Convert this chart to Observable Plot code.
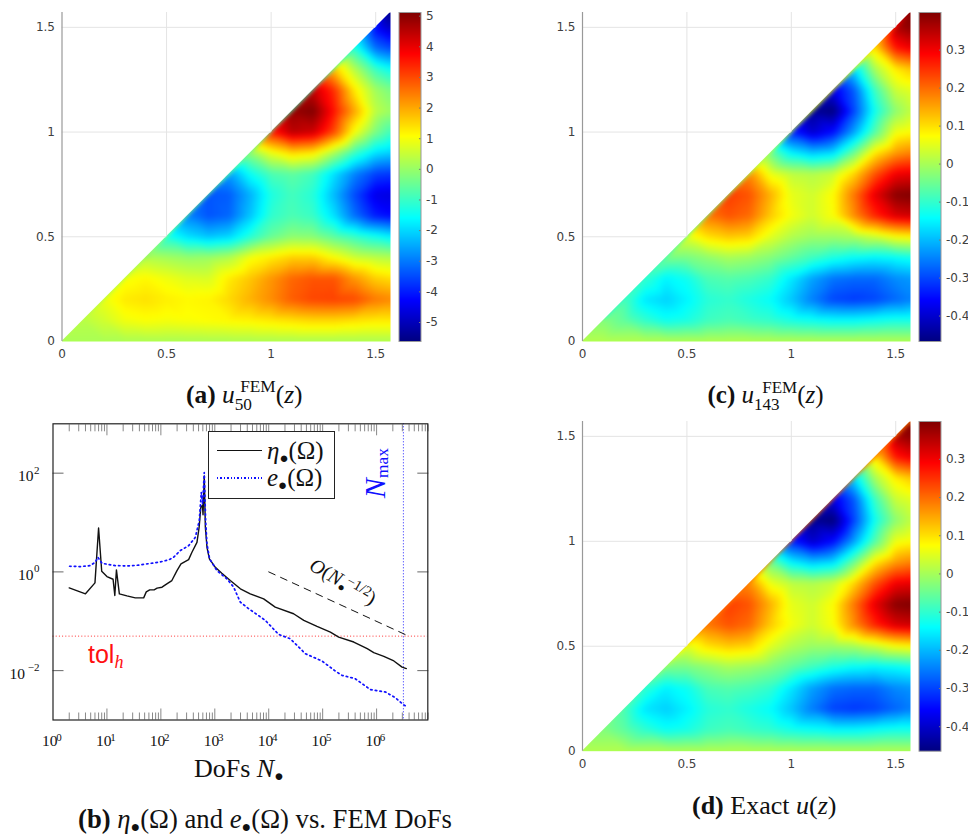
<!DOCTYPE html>
<html>
<head>
<meta charset="utf-8">
<script src="https://cdn.jsdelivr.net/npm/d3@7"></script>
<script src="https://cdn.jsdelivr.net/npm/@observablehq/plot@0.6"></script>
<style>
html,body{margin:0;padding:0;background:#fff}
#root{position:relative;width:968px;height:836px;overflow:hidden;font-family:"Liberation Serif",serif;color:#111}
#root svg{position:absolute;background:transparent}
.t{position:absolute;line-height:1;white-space:nowrap}
.t sub,.t sup{font-size:.72em;line-height:0;vertical-align:baseline;position:relative}
.t sub{top:.3em}.t sup{top:-.42em}
</style>
</head>
<body>
<div id="root"></div>
<script>
// grid positions of the values
const gridCoords = [0,.1,.2,.3,.4,.5,.6,.7,.8,.9,1,1.1,1.2,1.3,1.4,1.5,1.5708];
const zMax = 1.5708;
const axisTicks = [0,.5,1,1.5];
// row k holds y = gridCoords[k], columns x = gridCoords[k..]
const fem50Rows = [
 [.2,.2,.2,.2,.2,.2,.2,.2,.2,.2,.2,.2,.2,.2,.2,.2,.2],
 [.35,.6,.95,1.05,1.0,1.05,1.1,1.15,1.2,1.3,1.4,1.5,1.5,1.4,1.3,1.3],
 [.9,1.3,1.4,1.25,1.15,1.2,1.5,1.9,2.3,2.8,3.05,3.1,3.0,2.5,2.35],
 [1.0,1.15,.95,.75,.7,1.3,1.7,2.2,2.7,2.9,2.9,2.2,1.6,1.45],
 [.3,.15,0,.05,.3,1.0,1.3,1.6,1.6,1.1,.6,.4,.3],
 [-1.3,-1.9,-2.2,-2.0,-1.2,-.5,-.1,-.15,-.6,-1.0,-1.4,-1.7],
 [-2.9,-3.4,-3.2,-2.2,-1.1,-.8,-1.0,-1.9,-3.1,-4.0,-4.2],
 [-3.4,-3.3,-2.4,-1.3,-.9,-1.2,-2.3,-3.5,-4.5,-4.6],
 [-2.6,-1.5,-.8,-.6,-.9,-1.9,-2.9,-3.6,-3.7],
 [-.1,.9,1.5,1.3,.2,-1.0,-1.9,-2.1],
 [3.5,4.5,4.3,3.0,1.0,-.3,-.9],
 [4.9,5.1,3.6,2.0,.4,.05],
 [4.4,3.3,1.3,.1,-.3],
 [1.7,.3,-1.0,-1.5],
 [-1.2,-3.1,-3.5],
 [-4.3,-4.9],
 [-5.6]
];
const fem143Rows = [
 [.01,.01,.01,.01,.01,.01,.01,.01,.01,.01,.01,.01,.01,.01,.01,.01,.01],
 [-.03,-.06,-.10,-.13,-.12,-.09,-.08,-.09,-.10,-.12,-.13,-.14,-.14,-.13,-.12,-.12],
 [-.08,-.16,-.18,-.15,-.11,-.10,-.12,-.14,-.19,-.25,-.30,-.31,-.30,-.27,-.25],
 [-.10,-.15,-.13,-.08,-.07,-.08,-.10,-.16,-.22,-.26,-.27,-.27,-.24,-.23],
 [-.04,-.04,-.02,0,-.01,-.03,-.06,-.09,-.12,-.14,-.15,-.14,-.13],
 [.05,.10,.12,.11,.05,.01,-.01,-.01,0,.03,.07,.08],
 [.19,.22,.20,.12,.065,.035,.07,.17,.26,.32,.33],
 [.24,.22,.14,.055,.035,.075,.19,.31,.39,.399],
 [.17,.06,.02,.01,.03,.11,.22,.30,.31],
 [-.05,-.15,-.19,-.17,-.05,.09,.16,.18],
 [-.33,-.40,-.35,-.22,-.07,.06,.075],
 [-.45,-.467,-.30,-.13,-.02,.02],
 [-.38,-.28,-.09,.03,.05],
 [-.17,0,.09,.12],
 [.10,.27,.30],
 [.36,.39],
 [.399]
];
const exactRows = fem143Rows;
const fem50Bar = [-5.62,5.12], fem143Bar = [-.467,.399], exactBar = [-.464,.399];
const fem50Ticks = [-5,-4,-3,-2,-1,0,1,2,3,4,5];
const fieldTicks = [-.4,-.3,-.2,-.1,0,.1,.2,.3];
const jetStops = ["#000080","#0000ff","#00ffff","#ffff00","#ff0000","#800000"];
const jetPositions = [0,.125,.375,.625,.875,1];

// convergence plot
const etaN = [2,4,6,7,8,10,13,14,15,17,23.5,33.5,48,53.6,62,75,85,105,129,160,199,236,327,377,467,512,550,590,605,638,668,716,794,1023,1350,1936,2980,4540,8050,13180,28900,44700,78500,139000,198000,377000,670000,885000,1.36e6,2.09e6,2.97e6,3.56e6];
const etaVal = [.475,.36,.6,7.74,1.03,.805,.71,.333,1.1,.36,.327,.298,.298,.394,.433,.433,.468,.49,.57,.668,1.06,1.45,1.77,2.5,3.97,8,20,22.6,14.4,88,8,3.15,1.83,1.24,.94,.668,.454,.36,.285,.193,.142,.104,.0785,.0603,.0478,.038,.0278,.0231,.0195,.0157,.0118,.011];
const errN = [2.03,3.2,4.9,6.07,6.8,8.06,10.7,14.3,23.5,36,55,97,139,172,229,327,435,515,562,595,638,676,716,802,1097,1683,2240,2970,4260,5250,8650,15280,25100,47900,96800,171000,228000,398000,769000,1.45e6,2.22e6,2.96e6,3.5e6];
const errVal = [1.3,1.28,1.34,1.57,1.98,1.5,1.41,1.34,1.32,1.36,1.45,1.59,1.75,1.98,2.7,3.4,5,10.9,40.7,23.6,103,10.9,3.68,1.83,1.06,.72,.49,.244,.179,.153,.104,.0541,.0442,.022,.0157,.00984,.00804,.00689,.00412,.0037,.00284,.00215,.0019];
const rateN = [1e4,3.94e6], rateVal = [1,.05];
const tolH = .05, nMax = 3.14e6;
const decadesX = [1e1,1e2,1e3,1e4,1e5,1e6];
const labelsX = [1,1e1,1e2,1e3,1e4,1e5,1e6];
const exponentsX = ["0","1","2","3","4","5","6"];
const minorX = [1,10,100,1000,1e4,1e5,1e6].flatMap(d=>[2,3,4,5,6,7,8,9].map(k=>k*d));

const root = document.getElementById("root");
const jet = t => {
  let i = 0; while (i < 4 && t > jetPositions[i+1]) i++;
  return d3.interpolateRgb(jetStops[i], jetStops[i+1])((t-jetPositions[i])/(jetPositions[i+1]-jetPositions[i]));
};
const place = (svg,left,top) => { svg.style.left=left+"px"; svg.style.top=top+"px"; root.append(svg); };
const sans = {fontFamily:"'DejaVu Sans',sans-serif",fontSize:"12px",color:"#404040",background:"transparent"};
const colorOpt = d => ({type:"linear",domain:d,interpolate:jet,clamp:true});

function heat(rows, bar, barTicks, off, leftPx, topPx, bottomPx){
  const pts = rows.flatMap((r,k)=>r.map((v,j)=>({x:gridCoords[j+k],y:gridCoords[k],v})));
  const mask = [0,zMax];
  const h = bottomPx-topPx;
  place(Plot.plot({
    width:400, height:h+32, marginLeft:leftPx, marginRight:10, marginTop:12, marginBottom:20,
    style:sans,
    x:{domain:[0,zMax],label:null}, y:{domain:[0,zMax],label:null}, color:colorOpt(bar),
    marks:[
      Plot.raster(pts,{x:"x",y:"y",fill:"v",x1:0,x2:zMax,y1:0,y2:zMax,interpolate:"barycentric",blur:2,pixelSize:1}),
      Plot.areaY(mask,{x:d=>d,y1:d=>d,y2:zMax,fill:"#fff"}),
      Plot.ruleX(axisTicks.slice(1),{x:d=>d,y1:d=>d,y2:zMax,stroke:"#e4e4e4"}),
      Plot.ruleY(axisTicks.slice(1),{y:d=>d,x1:0,x2:d=>d,stroke:"#e4e4e4"}),
      Plot.ruleX([0],{stroke:"#999",strokeWidth:1.2}),
      Plot.axisX({ticks:axisTicks,tickFormat:String,tickSize:0,tickPadding:8,fontSize:12,label:null}),
      Plot.axisY({ticks:axisTicks,tickFormat:String,tickSize:0,tickPadding:7,fontSize:12,label:null})
    ]
  }), off, topPx-12);
  place(Plot.plot({
    width:70, height:h+32, marginLeft:18.5, marginRight:29.5, marginTop:12, marginBottom:20,
    style:sans,
    x:{domain:[0,1],axis:null}, y:{domain:bar,label:null}, color:colorOpt(bar),
    marks:[
      Plot.raster({fill:(x,y)=>y,x1:0,x2:1,y1:bar[0],y2:bar[1],pixelSize:1}),
      Plot.frame({stroke:"#999",strokeWidth:1}),
      Plot.axisY({anchor:"right",ticks:barTicks,tickFormat:String,tickSize:0,tickPadding:5,fontSize:12,label:null}),
      Plot.ruleY(barTicks,{x1:.93,x2:1,stroke:"#777"})
    ]
  }), off+380, topPx-12);
}
heat(fem50Rows, fem50Bar, fem50Ticks, 0, 61.5, 12, 341);
heat(fem143Rows, fem143Bar, fieldTicks, 520, 62, 12, 341);
heat(exactRows, exactBar, fieldTicks, 520, 62, 421, 750.7);

// panel (b)
const serifAxis = {fontFamily:"'Liberation Serif',serif",fill:"#111",label:null};
place(Plot.plot({
  width:437, height:360, marginLeft:52.5, marginRight:9.7, marginTop:23.3, marginBottom:40.5,
  style:{background:"transparent",color:"#111"},
  x:{type:"log",domain:[1,8.9e6],label:null}, y:{type:"log",domain:[1e-3,1e3],label:null},
  marks:[
    Plot.axisX({anchor:"bottom",ticks:minorX,tickSize:-7,text:null,stroke:"#888",label:null}),
    Plot.axisX({anchor:"top",ticks:minorX,tickSize:-7,text:null,stroke:"#888",label:null}),
    Plot.axisX({anchor:"bottom",ticks:decadesX,tickSize:-11,text:null,stroke:"#888",label:null}),
    Plot.axisX({anchor:"top",ticks:decadesX,tickSize:-11,text:null,stroke:"#888",label:null}),
    Plot.axisY({anchor:"left",ticks:[1e-2,1,1e2],tickSize:-11,text:null,stroke:"#666",label:null}),
    Plot.axisY({anchor:"right",ticks:[1e-2,1,1e2],tickSize:-11,text:null,stroke:"#666",label:null}),
    Plot.axisX({anchor:"bottom",ticks:labelsX,tickFormat:()=>"10",tickSize:0,tickPadding:15,dx:-3.3,fontSize:15.5,...serifAxis}),
    Plot.axisX({anchor:"bottom",ticks:labelsX,tickFormat:d=>exponentsX[labelsX.indexOf(d)],tickSize:0,tickPadding:13,dx:6,fontSize:11,...serifAxis}),
    Plot.axisY({ticks:[1,1e2],tickFormat:()=>"10",tickSize:0,tickPadding:19.5,dy:3,fontSize:15.5,...serifAxis}),
    Plot.axisY({ticks:[1e-2],tickFormat:()=>"10",tickSize:0,tickPadding:28,dy:3,fontSize:15.5,...serifAxis}),
    Plot.axisY({ticks:[1e-2,1,1e2],tickFormat:d=>d<1?"\u22122":d>1?"2":"0",tickSize:0,tickPadding:13.5,dy:-3,fontSize:11,...serifAxis}),
    Plot.ruleY([tolH],{stroke:"#ff3030",strokeDasharray:"1,2.2",strokeWidth:1}),
    Plot.ruleX([nMax],{stroke:"#2020ff",strokeDasharray:"1,2",strokeWidth:1}),
    Plot.line(rateN,{x:rateN,y:rateVal,stroke:"#111",strokeWidth:1,strokeDasharray:"7,6"}),
    Plot.line(etaN,{x:etaN,y:etaVal,stroke:"#111",strokeWidth:1.4,curve:"linear"}),
    Plot.line(errN,{x:errN,y:errVal,stroke:"#1010ff",strokeWidth:1.7,strokeDasharray:"1.5,3.2",curve:"linear"}),
    Plot.frame({stroke:"#222",strokeWidth:1.2})
  ]
}), 0, 400);

// text set in HTML (sub- and superscripts)
function text(html,left,baseline,size,extra=""){
  const d=document.createElement("div");d.className="t";d.innerHTML=html;
  d.style.cssText=`left:${left}px;top:${baseline-.8375*size}px;font-size:${size}px;${extra}`;
  root.append(d);return d;
}
const dot='<sub style="font-size:.6em;top:.25em">\u25CF</sub>';
const stack=(up,low,w)=>`<sub style="top:.42em;font-size:.68em">${low}</sub><sup style="top:-.62em;font-size:.68em;margin-left:-${w}em">${up}</sup>`;
text(`<b>(a)</b> <i>u</i>${stack("FEM","50",.68)}(<i>z</i>)`,186,403,25.4);
text(`<b>(c)</b> <i>u</i>${stack("FEM","143",1.02)}(<i>z</i>)`,707.5,403,25);
text(`<b>(d)</b> Exact <i>u</i>(<i>z</i>)`,692,815,26);
text(`<b>(b)</b> <i>\u03B7</i>${dot}(\u03A9) and <i>e</i>${dot}(\u03A9) vs. FEM DoFs`,78,828,26.7);
text(`DoFs <i>N</i>${dot}`,194,778,26);
const box=document.createElement("div");
box.style.cssText="position:absolute;left:207.5px;top:431px;width:125px;height:66px;border:1.3px solid #222;background:#fff";
root.append(box);
const s1=document.createElement("div");s1.style.cssText="position:absolute;left:216.5px;top:449.5px;width:45px;border-top:1.2px solid #111";root.append(s1);
const s2=document.createElement("div");s2.style.cssText="position:absolute;left:216.5px;top:477px;width:45px;height:2px;background:repeating-linear-gradient(90deg,#1010ff 0 1.4px,transparent 1.4px 3.4px)";root.append(s2);
text(`<i>\u03B7</i>${dot}(\u03A9)`,267,459,25);
text(`<i>e</i>${dot}(\u03A9)`,267,486,25);
text(`tol<i style="font-family:'Liberation Serif'"><sub>h</sub></i>`,88,663,25,"font-family:'Liberation Sans',sans-serif;color:#ff1010");
text(`<i>N</i><sub style="font-size:.58em;top:.15em">max</sub>`,385,498,30,"color:#1010ff;transform-origin:0 83.75%;transform:rotate(-90deg)");
text(`<i>O</i>(<i>N</i>${dot}<sup style="margin-left:-.12em">\u22121/2</sup>)`,308,569,20,"transform-origin:0 83.75%;transform:rotate(30deg)");
</script>
</body>
</html>
